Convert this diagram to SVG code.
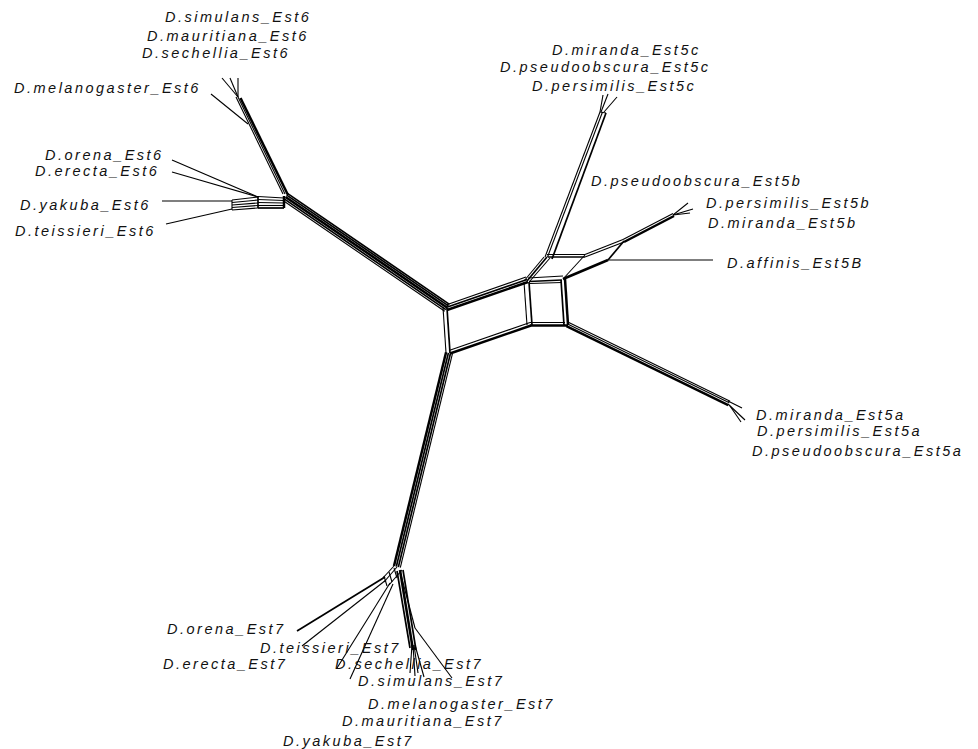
<svg xmlns="http://www.w3.org/2000/svg" width="978" height="749" viewBox="0 0 978 749">
<style>
.l{stroke:#000;stroke-width:1.1;fill:none}
.m{stroke:#000;stroke-width:1.7;fill:none}
.t{stroke:#000;stroke-width:2.5;fill:none}
text{font-family:"Liberation Sans",Arial,Helvetica,sans-serif;font-style:italic;font-size:14.5px;letter-spacing:2.5px;fill:#111}
</style>
<rect width="978" height="749" fill="#fff"/>
<g id="connectors">
  <!-- Est6 stem -->
  <g transform="translate(447,308) rotate(214.4)">
    <line class="l" x1="0" y1="-4" x2="196" y2="-4"/>
    <line class="m" x1="0" y1="-2" x2="196" y2="-2"/>
    <line class="t" x1="0" y1="0.4" x2="196" y2="0.4"/>
    <line class="m" x1="0" y1="2.6" x2="196" y2="2.6"/>
    <line class="m" x1="0" y1="4.4" x2="196" y2="4.4"/>
  </g>
  <!-- Est7 stem -->
  <g transform="translate(449,353) rotate(103.7)">
    <line class="l" x1="0" y1="-3.5" x2="220" y2="-3.5"/>
    <line class="m" x1="0" y1="-1.5" x2="220" y2="-1.5"/>
    <line class="m" x1="0" y1="0.6" x2="220" y2="0.6"/>
    <line class="t" x1="0" y1="3" x2="220" y2="3"/>
  </g>
  <!-- Est5a stem -->
  <g transform="translate(567,325) rotate(26)">
    <line class="l" x1="0" y1="-3" x2="180" y2="-3"/>
    <line class="l" x1="0" y1="-1.2" x2="180" y2="-1.2"/>
    <line class="t" x1="0" y1="1.3" x2="180" y2="1.3"/>
  </g>
  <line class="l" x1="728" y1="401" x2="742" y2="408"/>
  <line class="l" x1="728" y1="404" x2="745" y2="420"/>
  <line class="l" x1="730" y1="406" x2="741" y2="422"/>
  <!-- central left box -->
  <line class="l" x1="443" y1="307" x2="446" y2="353"/>
  <line class="m" x1="447" y1="308" x2="450" y2="353"/>
  <line class="l" x1="446" y1="305" x2="526" y2="277"/>
  <line class="m" x1="446" y1="307.5" x2="527" y2="279.5"/>
  <line class="t" x1="447" y1="310" x2="528" y2="282"/>
  <line class="l" x1="449" y1="350.5" x2="530" y2="322.5"/>
  <line class="t" x1="450" y1="353.5" x2="531" y2="325.5"/>
  <!-- central right box -->
  <line class="l" x1="524" y1="282" x2="527" y2="325"/>
  <line class="m" x1="529" y1="282" x2="532" y2="325"/>
  <line class="l" x1="528" y1="278" x2="563" y2="276"/>
  <line class="m" x1="529" y1="281.5" x2="562" y2="280"/>
  <line class="l" x1="530" y1="283.5" x2="562" y2="282.5"/>
  <line class="m" x1="561" y1="280" x2="564" y2="325"/>
  <line class="t" x1="565" y1="279" x2="568" y2="325"/>
  <line class="t" x1="530" y1="325.5" x2="568" y2="325.5"/>
  <line class="l" x1="530" y1="322.5" x2="565" y2="322.5"/>
  <!-- toward Est5c -->
  <line class="l" x1="524" y1="281" x2="544" y2="257"/>
  <line class="m" x1="527" y1="281" x2="547" y2="257"/>
  <line class="l" x1="530" y1="281" x2="550" y2="258"/>
  <line class="l" x1="545" y1="257" x2="600" y2="112"/>
  <line class="l" x1="547.5" y1="257" x2="602.5" y2="112"/>
  <line class="m" x1="552" y1="259" x2="606" y2="113"/>
  <line class="l" x1="600" y1="112" x2="603" y2="95"/>
  <line class="l" x1="601" y1="112" x2="608" y2="94"/>
  <line class="l" x1="604" y1="112" x2="617" y2="97"/>
  <line class="l" x1="600" y1="112" x2="606" y2="113"/>
  <!-- parallelogram to Est5b -->
  <line class="l" x1="547" y1="254.5" x2="585" y2="254.5"/>
  <line class="m" x1="548" y1="257" x2="585" y2="257"/>
  <line class="l" x1="585" y1="255" x2="563" y2="279"/>
  <line class="l" x1="585" y1="254.5" x2="623" y2="239.5"/>
  <line class="l" x1="585" y1="257" x2="624" y2="242"/>
  <line class="t" x1="563" y1="279" x2="608" y2="260"/>
  <line class="m" x1="608" y1="260" x2="624" y2="241"/>
  <line class="l" x1="623" y1="239.5" x2="673" y2="213.5"/>
  <line class="t" x1="624" y1="242" x2="674" y2="216"/>
  <line class="l" x1="673" y1="215" x2="688" y2="203"/>
  <line class="l" x1="673" y1="215" x2="693" y2="209"/>
  <line class="l" x1="673" y1="215" x2="690" y2="213"/>
  <line class="l" x1="608" y1="260" x2="713" y2="260"/>
  <!-- Est6 upper clade -->
  <line class="l" x1="283" y1="194" x2="236" y2="97"/>
  <line class="l" x1="285" y1="194" x2="238" y2="97"/>
  <line class="t" x1="288" y1="195" x2="240.5" y2="98"/>
  <line class="l" x1="238" y1="97" x2="222" y2="78"/>
  <line class="l" x1="238" y1="97" x2="230" y2="78"/>
  <line class="l" x1="238" y1="97" x2="238" y2="78"/>
  <line class="l" x1="211" y1="94" x2="248" y2="124"/>
  <!-- Est6 lower clade -->
  <line class="l" x1="284" y1="198" x2="258" y2="196.5"/>
  <line class="l" x1="284" y1="200.5" x2="258" y2="199.5"/>
  <line class="l" x1="284" y1="203" x2="258" y2="202.5"/>
  <line class="l" x1="284" y1="205.5" x2="258" y2="205.5"/>
  <line class="m" x1="284" y1="208" x2="258" y2="208"/>
  <line class="l" x1="258" y1="197" x2="232" y2="200"/>
  <line class="l" x1="258" y1="200" x2="232" y2="202.5"/>
  <line class="l" x1="258" y1="203" x2="232" y2="205"/>
  <line class="l" x1="258" y1="205.5" x2="232" y2="207.5"/>
  <line class="l" x1="258" y1="208" x2="232" y2="210"/>
  <line class="m" x1="258" y1="196" x2="258" y2="208"/>
  <line class="t" x1="284" y1="196" x2="284" y2="208"/>
  <line class="l" x1="232" y1="200" x2="232" y2="210"/>
  <line class="l" x1="172" y1="160" x2="258" y2="197"/>
  <line class="l" x1="172" y1="172" x2="258" y2="197"/>
  <line class="l" x1="162" y1="201" x2="232" y2="201"/>
  <line class="l" x1="166" y1="224" x2="232" y2="209"/>
  <!-- Est7 clade -->
  <line class="l" x1="394" y1="566" x2="381" y2="580"/>
  <line class="l" x1="397" y1="567" x2="384" y2="582"/>
  <line class="l" x1="402" y1="570" x2="389" y2="585"/>
  <line class="l" x1="384" y1="576" x2="387" y2="586"/>
  <line class="l" x1="389" y1="572" x2="392" y2="582"/>
  <line class="l" x1="394" y1="568" x2="397" y2="578"/>
  <line class="t" x1="400" y1="570" x2="413" y2="650"/>
  <line class="m" x1="403" y1="570" x2="416" y2="650"/>
  <line class="m" x1="397" y1="571" x2="410" y2="648"/>
  <line class="l" x1="401" y1="575" x2="415" y2="628"/>
  <line class="l" x1="415" y1="628" x2="452" y2="678"/>
  <line class="l" x1="412" y1="645" x2="410" y2="673"/>
  <line class="l" x1="413" y1="645" x2="415" y2="676"/>
  <line class="l" x1="414" y1="645" x2="418" y2="673"/>
  <line class="l" x1="415" y1="645" x2="424" y2="677"/>
  <line class="m" x1="297" y1="631" x2="385" y2="577"/>
  <line class="l" x1="302" y1="646" x2="386" y2="580"/>
  <line class="l" x1="337" y1="668" x2="390" y2="583"/>
  <line class="l" x1="350" y1="679" x2="393" y2="584"/>
</g>
<g id="n-simulans-est6"><text x="165" y="22">D.simulans_Est6</text></g>
<g id="n-mauritiana-est6"><text x="147" y="41">D.mauritiana_Est6</text></g>
<g id="n-sechellia-est6"><text x="142" y="58">D.sechellia_Est6</text></g>
<g id="n-melanogaster-est6"><text x="14" y="93">D.melanogaster_Est6</text></g>
<g id="n-orena-est6"><text x="45" y="160">D.orena_Est6</text></g>
<g id="n-erecta-est6"><text x="35" y="176">D.erecta_Est6</text></g>
<g id="n-yakuba-est6"><text x="20" y="210">D.yakuba_Est6</text></g>
<g id="n-teissieri-est6"><text x="15" y="236">D.teissieri_Est6</text></g>
<g id="n-miranda-est5c"><text x="552" y="55">D.miranda_Est5c</text></g>
<g id="n-pseudoobscura-est5c"><text x="500" y="72">D.pseudoobscura_Est5c</text></g>
<g id="n-persimilis-est5c"><text x="532" y="91">D.persimilis_Est5c</text></g>
<g id="n-pseudoobscura-est5b"><text x="591" y="186">D.pseudoobscura_Est5b</text></g>
<g id="n-persimilis-est5b"><text x="706" y="208">D.persimilis_Est5b</text></g>
<g id="n-miranda-est5b"><text x="708" y="228">D.miranda_Est5b</text></g>
<g id="n-affinis-est5b"><text x="727" y="268">D.affinis_Est5B</text></g>
<g id="n-miranda-est5a"><text x="756" y="420">D.miranda_Est5a</text></g>
<g id="n-persimilis-est5a"><text x="757" y="436">D.persimilis_Est5a</text></g>
<g id="n-pseudoobscura-est5a"><text x="752" y="456">D.pseudoobscura_Est5a</text></g>
<g id="n-orena-est7"><text x="167" y="634">D.orena_Est7</text></g>
<g id="n-teissieri-est7"><text x="260" y="653">D.teissieri_Est7</text></g>
<g id="n-erecta-est7"><text x="163" y="669">D.erecta_Est7</text></g>
<g id="n-sechellia-est7"><text x="335" y="669">D.sechellia_Est7</text></g>
<g id="n-simulans-est7"><text x="358" y="686">D.simulans_Est7</text></g>
<g id="n-melanogaster-est7"><text x="368" y="709">D.melanogaster_Est7</text></g>
<g id="n-mauritiana-est7"><text x="342" y="726">D.mauritiana_Est7</text></g>
<g id="n-yakuba-est7"><text x="283" y="746">D.yakuba_Est7</text></g>
</svg>
